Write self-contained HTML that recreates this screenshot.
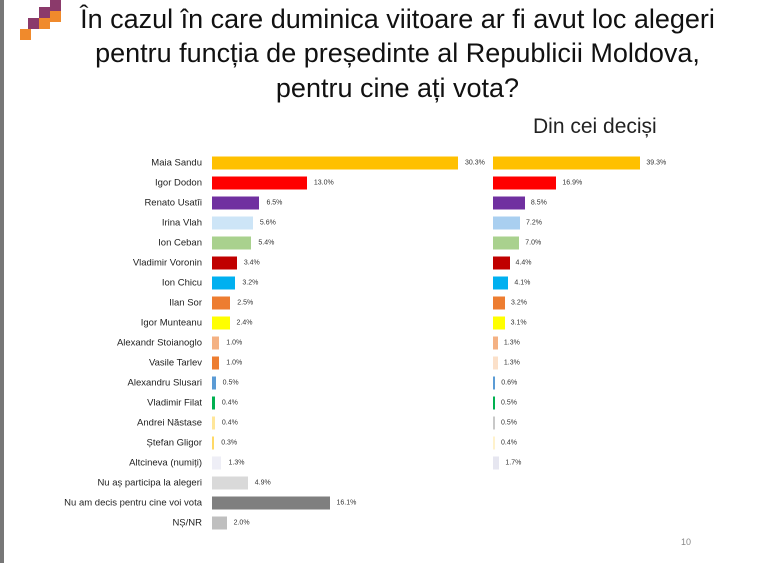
<!DOCTYPE html><html><head><meta charset="utf-8"><style>
body{margin:0;width:759px;height:563px;background:#fff;position:relative;overflow:hidden;font-family:"Liberation Sans",sans-serif}
.t{position:absolute;font-size:27px;color:#111;text-align:center;width:759px;left:18px;white-space:nowrap}
.l{position:absolute;right:557px;font-size:9.5px;color:#222;white-space:nowrap;transform:translateY(-50%)}
.b{position:absolute;height:13px;transform:translateY(-50%)}
.v{position:absolute;font-size:7px;color:#333;transform:translateY(-50%)}
.sq{position:absolute;width:11px;height:11px}
</style></head><body>
<div style="position:absolute;left:0;top:0;width:4px;height:563px;background:#777"></div>
<div class="sq" style="left:50px;top:0;background:#8b3a6b"></div>
<div class="sq" style="left:39px;top:7px;background:#8b3a6b"></div>
<div class="sq" style="left:50px;top:11px;background:#f08a2c"></div>
<div class="sq" style="left:28px;top:18px;background:#8b3a6b"></div>
<div class="sq" style="left:39px;top:18px;background:#f08a2c"></div>
<div class="sq" style="left:20px;top:29px;background:#f08a2c"></div>
<div class="t" style="top:4px">În cazul în care duminica viitoare ar fi avut loc alegeri</div>
<div class="t" style="top:38px">pentru funcția de președinte al Republicii Moldova,</div>
<div class="t" style="top:73px">pentru cine ați vota?</div>
<div style="position:absolute;left:533px;top:115px;font-size:21px;color:#222">Din cei deciși</div>
<div style="position:absolute;left:681px;top:537px;font-size:9px;color:#888">10</div>
<div id="c"></div>
<script>
var L=[["Maia Sandu",30.3,"#FFC000",39.3,"#FFC000"],["Igor Dodon",13.0,"#FF0000",16.9,"#FF0000"],["Renato Usatîi",6.5,"#7030A0",8.5,"#7030A0"],["Irina Vlah",5.6,"#CDE5F7",7.2,"#A9CFF0"],["Ion Ceban",5.4,"#A9D18E",7.0,"#A9D18E"],["Vladimir Voronin",3.4,"#C00000",4.4,"#C00000"],["Ion Chicu",3.2,"#00B0F0",4.1,"#00B0F0"],["Ilan Sor",2.5,"#ED7D31",3.2,"#ED7D31"],["Igor Munteanu",2.4,"#FFFF00",3.1,"#FFFF00"],["Alexandr Stoianoglo",1.0,"#F4B183",1.3,"#F4B183"],["Vasile Tarlev",1.0,"#ED7D31",1.3,"#FBE0C9"],["Alexandru Slusari",0.5,"#5B9BD5",0.6,"#5B9BD5"],["Vladimir Filat",0.4,"#00B050",0.5,"#00B050"],["Andrei Năstase",0.4,"#FFE699",0.5,"#C8C8C8"],["Ștefan Gligor",0.3,"#FFD966",0.4,"#FFF2CC"],["Altcineva (numiți)",1.3,"#EEEEF6",1.7,"#E6E6F0"],["Nu aș participa la alegeri",4.9,"#D9D9D9"],["Nu am decis pentru cine voi vota",16.1,"#7F7F7F"],["NȘ/NR",2.0,"#BFBFBF"]];
var h="";
L.forEach(function(r,i){var y=163+i*20;
var w=i==0?246:Math.max(2,r[1]*7.3);
h+='<div class="l" style="top:'+y+'px">'+r[0]+'</div><div class="b" style="left:212px;top:'+y+'px;width:'+w+'px;background:'+r[2]+'"></div><div class="v" style="left:'+(212+w+7)+'px;top:'+y+'px">'+r[1].toFixed(1)+'%</div>';
if(r.length>3){var w2=Math.max(2,r[3]*3.75);
h+='<div class="b" style="left:493px;top:'+y+'px;width:'+w2+'px;background:'+r[4]+'"></div><div class="v" style="left:'+(493+w2+6)+'px;top:'+y+'px">'+r[3].toFixed(1)+'%</div>';}
});
document.getElementById("c").innerHTML=h;
</script>
</body></html>
